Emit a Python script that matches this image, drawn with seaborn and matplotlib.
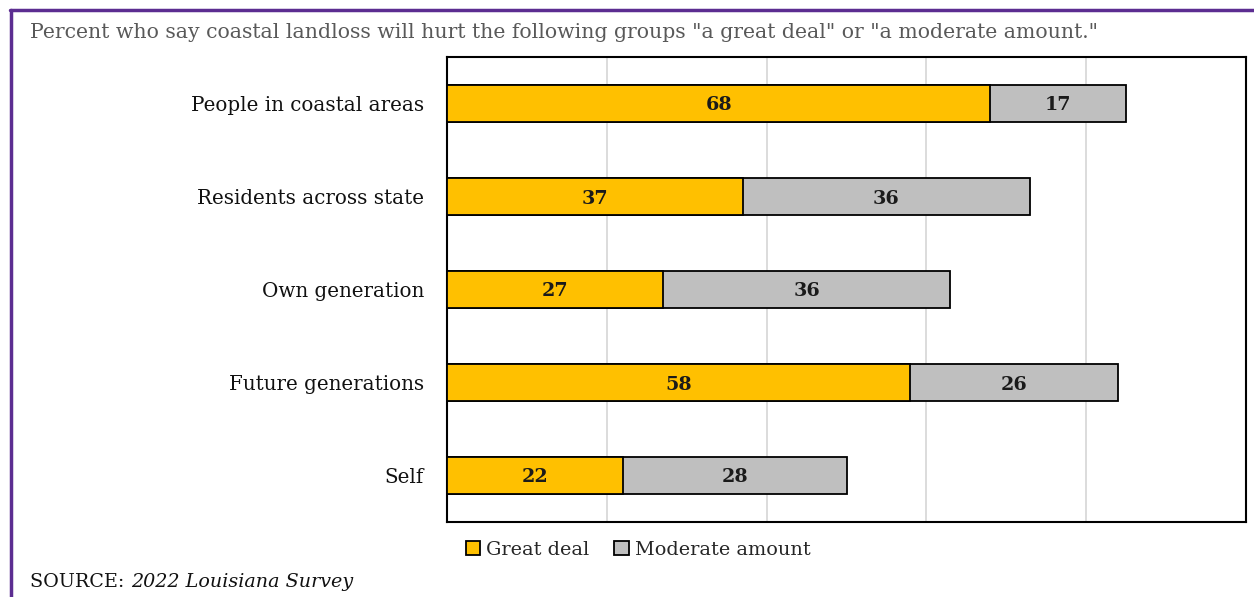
import matplotlib
matplotlib.use("Agg")
import matplotlib.pyplot as plt
import seaborn as sns
import pandas as pd
from matplotlib.patches import Patch
from matplotlib.lines import Line2D

categories = ["People in coastal areas", "Residents across state", "Own generation",
              "Future generations", "Self"]
great_deal = [68, 37, 27, 58, 22]
moderate = [17, 36, 36, 26, 28]

sns.set_theme(style="white")
plt.rcParams['font.family'] = ['DejaVu Serif']

df = pd.DataFrame({"cat": categories, "great": great_deal, "moderate": moderate})
df["total"] = df["great"] + df["moderate"]

W, H = 1254, 597
fig = plt.figure(figsize=(W / 100, H / 100), dpi=100)
ax = fig.add_axes([447/W, 1 - 522/H, 799/W, 465/H])

GOLD = "#FFC000"
GRAY = "#BFBFBF"
sns.barplot(data=df, y="cat", x="total", color=GRAY, orient="h", width=0.4,
            edgecolor="black", linewidth=1.3, ax=ax, saturation=1, zorder=3)
sns.barplot(data=df, y="cat", x="great", color=GOLD, orient="h", width=0.4,
            edgecolor="black", linewidth=1.3, ax=ax, saturation=1, zorder=4)

for i, (g, m) in enumerate(zip(great_deal, moderate)):
    ax.text(g / 2, i, str(g), ha="center", va="center_baseline", fontsize=13.8,
            fontweight="bold", color="#1a1a1a", zorder=5)
    ax.text(g + m / 2, i, str(m), ha="center", va="center_baseline", fontsize=13.8,
            fontweight="bold", color="#1a1a1a", zorder=5)

ax.set_xlim(0, 100)
ax.set_ylim(4.5, -0.5)
ax.set_xticks([20, 40, 60, 80])
ax.tick_params(axis="x", length=0, labelbottom=False)
ax.tick_params(axis="y", length=0, labelsize=14.3, pad=16.5, colors="#111111")
ax.xaxis.grid(True, color="#D9D9D9", linewidth=1.3, zorder=0)
ax.set_axisbelow(True)
ax.set_xlabel("")
ax.set_ylabel("")
for s in ax.spines.values():
    s.set_visible(True)
    s.set_color("black")
    s.set_linewidth(1.5)

handles = [Patch(facecolor=GOLD, edgecolor="black", linewidth=1.3, label="Great deal"),
           Patch(facecolor=GRAY, edgecolor="black", linewidth=1.3, label="Moderate amount")]
fig.legend(handles=handles, loc="center", bbox_to_anchor=(638/W, 1 - 550/H),
           ncol=2, frameon=False, fontsize=13.9, handlelength=0.75, handleheight=0.75,
           handletextpad=0.3, columnspacing=1.3)

fig.text(30/W, 1 - 33/H,
         'Percent who say coastal landloss will hurt the following groups "a great deal" or "a moderate amount."',
         ha="left", va="center", fontsize=14.7, color="#595959")
t1 = fig.text(30/W, 1 - 582/H, "SOURCE: ", ha="left", va="center", fontsize=13.8,
              color="#111111")
fig.canvas.draw()
bb = t1.get_window_extent()
fig.text(bb.x1 / W + 1/W, 1 - 582/H, "2022 Louisiana Survey", ha="left", va="center",
         fontsize=13.8, style="italic", color="#111111")

PURPLE = "#5C2D91"
fig.add_artist(Line2D([11/W, 11/W], [0, 1 - 10/H], transform=fig.transFigure,
                      color=PURPLE, linewidth=2.5))
fig.add_artist(Line2D([10/W, 1], [1 - 10/H, 1 - 10/H], transform=fig.transFigure,
                      color=PURPLE, linewidth=2.5))

fig.savefig("out.png", dpi=100)
